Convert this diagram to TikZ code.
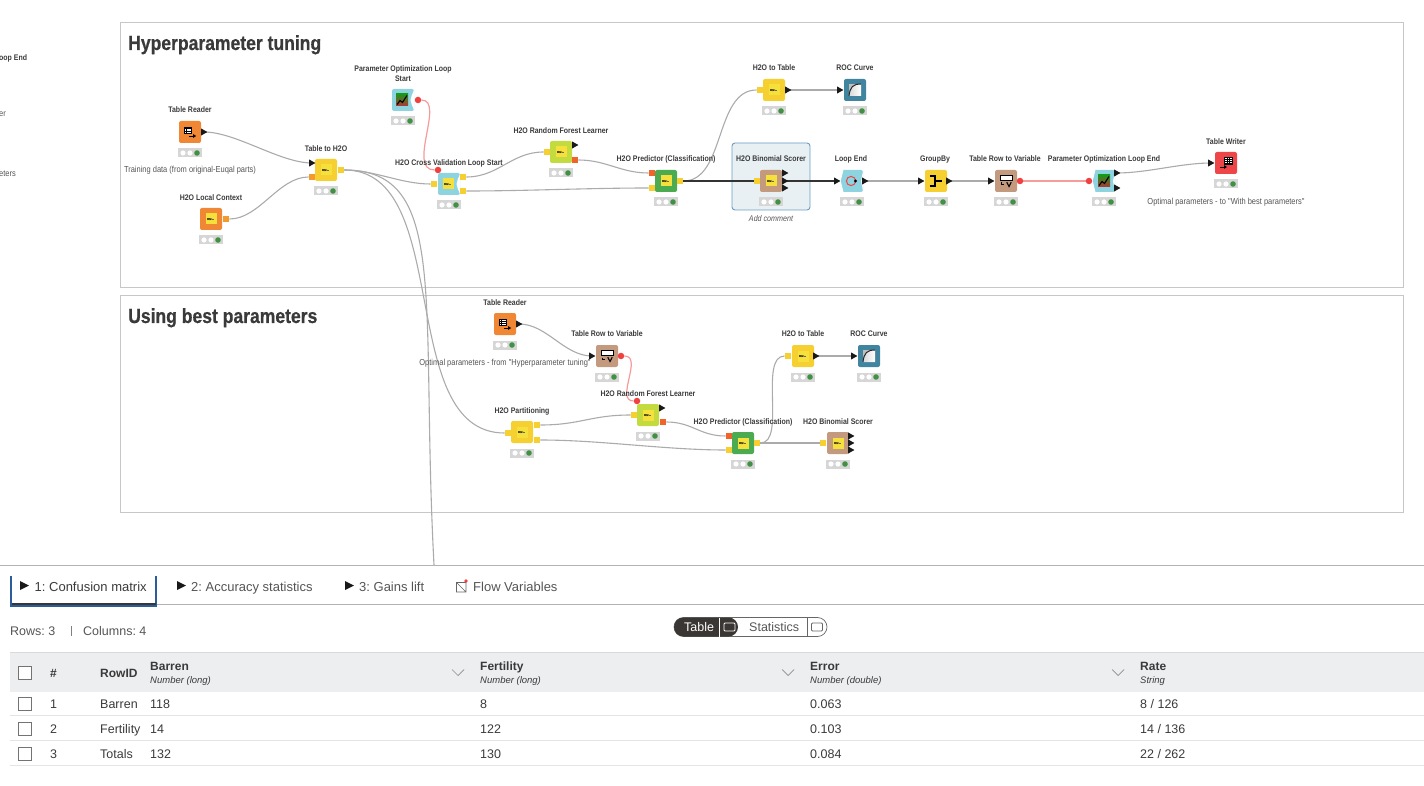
\documentclass[tikz,border=0pt]{standalone}
\usepackage{fontspec}
\setmainfont{Liberation Sans}
\newfontfamily\narrowf[FakeStretch=0.86]{Liberation Sans}
\newfontfamily\headf[FakeStretch=0.86,BoldFeatures={FakeStretch=0.86,FakeBold=0.6}]{Liberation Sans}
\AtBeginDocument{\frenchspacing}
\usetikzlibrary{backgrounds}
\definecolor{cOrange}{HTML}{F08735}
\definecolor{cYellow}{HTML}{F6CF30}
\definecolor{cInner}{HTML}{F5E03C}
\definecolor{cCyan}{HTML}{8DD3E0}
\definecolor{cGreen}{HTML}{4CAA50}
\definecolor{cLime}{HTML}{C4DB3F}
\definecolor{cTan}{HTML}{C49A7E}
\definecolor{cTeal}{HTML}{40849F}
\definecolor{cRed}{HTML}{EE4648}
\definecolor{cPortO}{HTML}{F29A2E}
\definecolor{cPortR}{HTML}{F0632B}
\definecolor{cDot}{HTML}{F04040}
\definecolor{cWire}{HTML}{ABABAB}
\definecolor{cRedWire}{HTML}{F79A9A}
\definecolor{cTxt}{HTML}{3A3A3A}
\definecolor{cTxtL}{HTML}{555555}
\definecolor{cFrame}{HTML}{C4C8C9}
\definecolor{cHead}{HTML}{EDEEF0}
\definecolor{cDark}{HTML}{3A3633}
\definecolor{cTabBlue}{HTML}{2B5D9B}
\definecolor{cHiFill}{HTML}{E8F0F4}
\definecolor{cHiLine}{HTML}{6B9BC3}
\tikzset{
  nodebox/.style={rectangle,rounded corners=2pt,minimum size=22pt,inner sep=0pt,draw=none},
  statusbox/.style={rectangle,minimum width=24pt,minimum height=9pt,inner sep=0pt,fill=black!16},
  yport/.style={rectangle,minimum size=6.5pt,inner sep=0pt,fill=cYellow},
  oport/.style={rectangle,minimum size=6.5pt,inner sep=0pt,fill=cPortO},
  rport/.style={rectangle,minimum size=6.5pt,inner sep=0pt,fill=cPortR},
  dotport/.style={circle,minimum size=6.5pt,inner sep=0pt,fill=cDot},
  wire/.style={draw=cWire,line width=1.1pt},
  redwire/.style={draw=cRedWire,line width=1.2pt},
  thickwire/.style={draw=black!80,line width=1.4pt},
  lab/.style={font=\narrowf\bfseries\fontsize{8.1}{10}\selectfont,text=cTxt,inner sep=0pt,align=center,anchor=base,yshift=-3.6pt},
  note/.style={font=\narrowf\fontsize{8.7}{10}\selectfont,text=cTxtL,inner sep=0pt,anchor=base,yshift=-3.6pt},
  titlef/.style={font=\headf\bfseries\fontsize{20.4}{24}\selectfont,text=cTxt,inner sep=0pt,anchor=base west,yshift=-7pt},
  cellt/.style={font=\fontsize{12.5}{15}\selectfont,text=cTxt,inner sep=0pt,anchor=base west,yshift=-4.5pt},
  tabt/.style={font=\fontsize{13}{15}\selectfont,text=cTxtL,inner sep=0pt,anchor=base west,yshift=-4.5pt},
  headt/.style={font=\bfseries\fontsize{12}{14}\selectfont,text=cTxt,inner sep=0pt,anchor=base west,yshift=-4.5pt},
  subt/.style={font=\itshape\fontsize{9.5}{11}\selectfont,text=cTxt,inner sep=0pt,anchor=base west,yshift=-3.5pt},
  framebox/.style={draw=cFrame,line width=1pt,fill=none},
  checkbox/.style={rectangle,draw=black!55,line width=.8pt,fill=white,minimum size=13pt,inner sep=0pt}
}
\newcommand\knode[4]{%
  \node[nodebox,fill=#4] (#1) at (#2,#3) {};
  \node[statusbox,yshift=-21pt] (#1s) at (#2,#3) {};
  \begin{scope}[shift={(#2,#3)}]
    \fill[white] (-7,21) circle (2.6) (0,21) circle (2.6);
    \fill[cGreen!85!black] (7,21) circle (2.8);
  \end{scope}}
\newcommand\iconH[2]{\begin{scope}[shift={(#1,#2)}]
  \fill[cInner] (-5.5,-5.5) rectangle (5.5,5.5);
  \draw[black,line width=.55pt] (-3.4,-.9)--(-3.4,.9) (-2.2,-.9)--(-2.2,.9) (-3.4,0)--(-2.2,0) (-1.4,1)--(-.4,.2)--(-1.3,-.8) (.2,0)--(1,0);
  \draw[black!60,line width=.4pt] (1.3,0)--(3,0);
  \end{scope}}
\newcommand\iconRead[2]{\begin{scope}[shift={(#1,#2)}]
  \draw[black,line width=.7pt,fill=white] (-6,-5) rectangle (1.5,1.5);
  \draw[black,line width=.6pt] (-6,-3.2)--(1.5,-3.2) (-6,-1)--(1.5,-1) (-3.5,-5)--(-3.5,1.5);
  \draw[black,line width=.9pt] (-1,4)--(4,4);
  \fill[black] (3.2,2.2)--(6.2,4)--(3.2,5.8)--cycle;
  \end{scope}}
\newcommand\iconWrite[2]{\begin{scope}[shift={(#1,#2)}]
  \draw[black,line width=.5pt,fill=white] (-1.5,-6) rectangle (6,1);
  \draw[black,line width=.5pt] (-1.5,-4)--(6,-4) (-1.5,-2)--(6,-2) (-1.5,0)--(6,0) (1,-6)--(1,1) (3.5,-6)--(3.5,1);
  \draw[black,line width=.9pt] (-6,4)--(-1,4);
  \fill[black] (-2,2.2)--(1,4)--(-2,5.8)--cycle;
  \end{scope}}
\newcommand\iconRow[2]{\begin{scope}[shift={(#1,#2)}]
  \draw[black,line width=.9pt,fill=white] (-6,-6) rectangle (6,-.8);
  \draw[black,line width=.7pt] (-5,1.5)--(-5,3)--(-2,3);
  \draw[black,line width=1.1pt] (.8,1.2)--(3,5.5)--(5.2,1.2);
  \end{scope}}
\newcommand\iconPO[2]{\begin{scope}[shift={(#1,#2)}]
  \shade[top color=green!55!black!90,bottom color=cRed!75!black] (-6,-6) rectangle (6,6);
  \draw[black,line width=1.1pt] (-5,4.5)--(-2,.5)--(.5,2.5)--(5,-4.5);
  \end{scope}}
\newcommand\iconROC[2]{\begin{scope}[shift={(#1,#2)}]
  \fill[black!25] (-6,-6) rectangle (6,6);
  \shade[left color=black!15,right color=white] (-6,6) .. controls (-5,-3) and (-2,-6) .. (6,-6) -- (6,6) -- cycle;
  \draw[black!85,line width=1pt] (-6,6) .. controls (-5,-3) and (-2,-6) .. (6,-6);
  \end{scope}}
\newcommand\iconGroup[2]{\begin{scope}[shift={(#1,#2)}]
  \draw[black,line width=2pt] (-6,-5)--(-1,-5)--(-1,5)--(-6,5) (-1,0)--(6,0);
  \end{scope}}
\newcommand\iconLoop[2]{\begin{scope}[shift={(#1,#2)}]
  \draw[cRed,line width=1pt] (0,0) circle (4.6);
  \fill[black] (4.5,0) circle (1.6);
  \end{scope}}
\newcommand\notchR[2]{\fill[white] (#1+11.3,#2-11.3) .. controls (#1+10,#2-6) and (#1+7.5,#2-4) .. (#1+7.5,#2) .. controls (#1+7.5,#2+4) and (#1+10,#2+6) .. (#1+11.3,#2+11.3) -- cycle;}
\newcommand\cutL[2]{\fill[white] (#1-11.3,#2-11.3)--(#1-8.5,#2-11.3)--(#1-11.3,#2)--(#1-8.5,#2+11.3)--(#1-11.3,#2+11.3)--cycle;
  \fill[white] (#1+11.3,#2-11.3)--(#1+9,#2)--(#1+11.3,#2+11.3)--cycle;}
\newcommand\tri[3]{\coordinate (#1) at (#2,#3);
  \fill[black!90] (#2-3,#3-3.6)--(#2+3.4,#3)--(#2-3,#3+3.6)--cycle;}
\newcommand\lbl[4]{\node[lab] (#1) at (#2,#3) {#4};}
\newcommand\nte[4]{\node[note] (#1) at (#2,#3) {#4};}
\begin{document}
\begin{tikzpicture}[x=1pt,y=-1pt]
\useasboundingbox (0,0) rectangle (1424,786);
\node[lab,anchor=base west] (cutA) at (-1,57) {oop End};
\node[note,anchor=base west] (cutB) at (-1,113) {er};
\node[note,anchor=base west] (cutC) at (-1,173) {eters};
\node[titlef] (t1) at (128,43) {Hyperparameter tuning};
\node[titlef] (t2) at (128,316) {Using best parameters};
\knode{tr}{190}{132}{cOrange} \iconRead{190}{132}
\knode{lc}{211}{219}{cOrange} \iconH{211}{219}
\knode{th}{326}{170}{cYellow} \iconH{326}{170}
\knode{ps}{403}{100}{cCyan} \notchR{403}{100} \iconPO{402}{100}
\knode{cv}{449}{184}{cCyan} \notchR{449}{184} \iconH{448}{184}
\knode{rf}{561}{152}{cLime} \iconH{561}{152}
\knode{pr}{666}{181}{cGreen} \iconH{666}{181}
\knode{ht}{774}{90}{cYellow} \iconH{774}{90}
\knode{rc}{855}{90}{cTeal} \iconROC{855}{90}
\knode{le}{852}{181}{cCyan} \cutL{852}{181} \iconLoop{851}{181}
\knode{gb}{936}{181}{cYellow} \iconGroup{936}{181}
\knode{rv}{1006}{181}{cTan} \iconRow{1006}{181}
\knode{pe}{1104}{181}{cCyan} \cutL{1104}{181} \iconPO{1104}{181}
\knode{tw}{1226}{163}{cRed} \iconWrite{1226}{163}
\tri{trO}{204}{132}
\tri{thI}{312}{163}
\node[oport] (thC) at (312,177) {};
\node[yport] (thO) at (341,170) {};
\node[oport] (lcO) at (226,219) {};
\node[dotport] (psO) at (418,100) {};
\node[dotport] (cvV) at (438,170) {};
\node[yport] (cvI) at (434,184) {};
\node[yport] (cvA) at (463,177) {};
\node[yport] (cvB) at (463,191) {};
\node[yport] (rfI) at (547,152) {};
\tri{rfT}{575}{145}
\node[rport] (rfO) at (575,160) {};
\node[rport] (prA) at (652,173) {};
\node[yport] (prB) at (652,188) {};
\node[yport] (prO) at (680,181) {};
\node[yport] (htI) at (760,90) {};
\tri{htO}{788}{90}
\tri{rcI}{840}{90}
\tri{leI}{837}{181}
\tri{leO}{865}{181}
\tri{gbI}{921}{181}
\tri{gbO}{949}{181}
\tri{rvI}{991}{181}
\node[dotport] (rvO) at (1020,181) {};
\node[dotport] (peI) at (1089,181) {};
\tri{peA}{1117}{173}
\tri{peB}{1117}{188}
\tri{twI}{1211}{163}
\begin{pgfonlayer}{background}
\draw[rounded corners=3pt,draw=cHiLine,fill=cHiFill,line width=.9pt] (732,143) rectangle (810,210);
\end{pgfonlayer}
\knode{bs}{771}{181}{cTan} \iconH{771}{181}
\node[yport] (bsI) at (757,181) {};
\tri{bsA}{785}{173}
\tri{bsB}{785}{181}
\tri{bsC}{785}{188}
\knode{tr2}{505}{324}{cOrange} \iconRead{505}{324}
\knode{rv2}{607}{356}{cTan} \iconRow{607}{356}
\knode{rf2}{648}{415}{cLime} \iconH{648}{415}
\knode{pt}{522}{432}{cYellow} \iconH{522}{432}
\knode{pr2}{743}{443}{cGreen} \iconH{743}{443}
\knode{ht2}{803}{356}{cYellow} \iconH{803}{356}
\knode{rc2}{869}{356}{cTeal} \iconROC{869}{356}
\knode{bs2}{838}{443}{cTan} \iconH{838}{443}
\tri{tr2O}{519}{324}
\tri{rv2I}{592}{356}
\node[dotport] (rv2O) at (621,356) {};
\node[dotport] (rf2V) at (637,401) {};
\node[yport] (rf2I) at (634,415) {};
\tri{rf2T}{662}{408}
\node[rport] (rf2O) at (663,422) {};
\node[yport] (ptI) at (508,433) {};
\node[yport] (ptA) at (537,425) {};
\node[yport] (ptB) at (537,440) {};
\node[rport] (pr2A) at (729,436) {};
\node[yport] (pr2B) at (729,450) {};
\node[yport] (pr2O) at (757,443) {};
\node[yport] (ht2I) at (788,356) {};
\tri{ht2O}{816}{356}
\tri{rc2I}{854}{356}
\node[yport] (bs2I) at (823,443) {};
\tri{bs2A}{851}{436}
\tri{bs2B}{851}{443}
\tri{bs2C}{851}{450}
\coordinate (offEnd) at (434,565);
\begin{pgfonlayer}{background}
\draw[framebox] (120,23) rectangle (1403,288);
\draw[framebox] (120,296) rectangle (1403,512);
\path[wire] (trO) .. controls +(32,0) and +(-32,0) .. (thI);
\path[wire] (lcO.east) .. controls +(30,0) and +(-30,0) .. (thC.west);
\path[wire] (thO.east) .. controls +(30,0) and +(-30,0) .. (cvI.west);
\path[wire] (thO.east) .. controls +(110,0) and +(-110,0) .. (ptI.west);
\path[wire] (thO.east) .. controls (450,170) and (420,300) .. (offEnd);
\path[redwire] (psO.east) .. controls +(24,0) and +(-28,0) .. (cvV.west);
\path[wire] (cvA.east) .. controls +(32,0) and +(-32,0) .. (rfI.west);
\path[wire] (cvB.east) .. controls +(60,0) and +(-60,0) .. (prB.west);
\path[wire] (rfO.east) .. controls +(28,0) and +(-28,0) .. (prA.west);
\path[wire] (prO.east) .. controls +(42,0) and +(-42,0) .. (htI.west);
\path[thickwire] (prO.east) -- (bsI.west);
\path[thickwire] (bsB) -- (leI);
\path[wire] (htO) -- (rcI);
\path[wire] (leO) -- (gbI);
\path[wire] (gbO) -- (rvI);
\path[redwire] (rvO.east) -- (peI.west);
\path[wire] (peA) .. controls +(30,0) and +(-30,0) .. (twI);
\path[wire] (tr2O) .. controls +(28,0) and +(-28,0) .. (rv2I);
\path[redwire] (rv2O.east) .. controls +(19,0) and +(-19,0) .. (rf2V.west);
\path[wire] (ptA.east) .. controls +(40,0) and +(-40,0) .. (rf2I.west);
\path[wire] (ptB.east) .. controls +(60,0) and +(-60,0) .. (pr2B.west);
\path[wire] (rf2O.east) .. controls +(26,0) and +(-26,0) .. (pr2A.west);
\path[wire] (pr2O.east) .. controls +(26,0) and +(-26,0) .. (ht2I.west);
\path[wire] (pr2O.east) -- (bs2I.west);
\path[wire] (ht2O) -- (rc2I);
\end{pgfonlayer}
\lbl{l1}{190}{109}{Table Reader}
\nte{n1}{190}{169}{Training data (from original-Euqal parts)}
\lbl{l2}{211}{197}{H2O Local Context}
\lbl{l3}{326}{148}{Table to H2O}
\node[lab,anchor=center,yshift=3pt] (l4) at (403,73) {Parameter Optimization Loop\\Start};
\lbl{l5}{449}{162}{H2O Cross Validation Loop Start}
\lbl{l6}{561}{130}{H2O Random Forest Learner}
\lbl{l7}{666}{158}{H2O Predictor (Classification)}
\lbl{l8}{774}{67}{H2O to Table}
\lbl{l9}{855}{67}{ROC Curve}
\lbl{l10}{771}{158}{H2O Binomial Scorer}
\node[note,font=\narrowf\itshape\fontsize{8.3}{10}\selectfont] (n2) at (771,218) {Add comment};
\lbl{l11}{851}{158}{Loop End}
\lbl{l12}{935}{158}{GroupBy}
\lbl{l13}{1005}{158}{Table Row to Variable}
\lbl{l14}{1104}{158}{Parameter Optimization Loop End}
\lbl{l15}{1226}{141}{Table Writer}
\nte{n3}{1226}{201}{Optimal parameters - to "With best parameters"}
\lbl{l16}{505}{302}{Table Reader}
\lbl{l17}{607}{333}{Table Row to Variable}
\nte{n4}{505}{362}{Optimal parameters - from "Hyperparameter tuning"}
\lbl{l18}{648}{393}{H2O Random Forest Learner}
\lbl{l19}{522}{410}{H2O Partitioning}
\lbl{l20}{743}{421}{H2O Predictor (Classification)}
\lbl{l21}{803}{333}{H2O to Table}
\lbl{l22}{869}{333}{ROC Curve}
\lbl{l23}{838}{421}{H2O Binomial Scorer}
\draw[black!30,line width=.9pt] (0,565.5)--(1424,565.5);
\draw[black!30,line width=.9pt] (157,604.5)--(1424,604.5);
\draw[cTabBlue,line width=1.2pt] (11,576)--(11,606)--(156,606)--(156,576);
\draw[cDark,line width=2.4pt] (11.5,604)--(155.5,604);
\fill[black!90] (20,581)--(29,585.5)--(20,590)--cycle;
\node[tabt,text=cTxt] (tab1) at (34.5,586.5) {1: Confusion matrix};
\fill[black!90] (177,581)--(186,585.5)--(177,590)--cycle;
\node[tabt] (tab2) at (191,586.5) {2: Accuracy statistics};
\fill[black!90] (345,581)--(354,585.5)--(345,590)--cycle;
\node[tabt] (tab3) at (359,586.5) {3: Gains lift};
\draw[black!60,line width=.7pt] (456.5,582.5) rectangle (466,592) (456.5,582.5)--(466,592);
\fill[cDot] (466,581) circle (1.8);
\node[tabt] (tab4) at (473,586.5) {Flow Variables};
\node[cellt,text=cTxtL,font=\fontsize{12.5}{14}\selectfont] (rows) at (10,630.5) {Rows: 3};
\draw[black!50,line width=.7pt] (71.5,626)--(71.5,636);
\node[cellt,text=cTxtL,font=\fontsize{12.5}{14}\selectfont] (cols) at (83,630.5) {Columns: 4};
\draw[black!60,line width=.7pt,rounded corners=9.5pt] (674,617.5) rectangle (827,636.5);
\fill[cDark,rounded corners=9.5pt] (674,617.5) rectangle (738,636.5);
\draw[white,line width=.6pt] (719.5,617.5)--(719.5,636.5);
\node[cellt,text=white] (pillA) at (684,627) {Table};
\node[cellt,text=cTxtL] (pillB) at (749,627) {Statistics};
\draw[black!60,line width=.7pt] (807.5,617.5)--(807.5,636.5);
\draw[white,line width=.8pt,rounded corners=1pt] (724,623) rectangle (735,631);
\draw[black!60,line width=.8pt,rounded corners=1pt] (811.5,623) rectangle (822.5,631);
\fill[cHead] (10,652) rectangle (1424,692);
\draw[black!15,line width=.8pt] (10,652)--(1424,652);
\draw[black!10,line width=.8pt] (10,715.5)--(1424,715.5) (10,740.5)--(1424,740.5) (10,765.5)--(1424,765.5);
\node[checkbox] (cb0) at (25,673) {};
\node[checkbox] (cb1) at (25,704) {};
\node[checkbox] (cb2) at (25,729) {};
\node[checkbox] (cb3) at (25,754) {};
\node[headt] (h0) at (50,672.5) {\#};
\node[headt] (h1) at (100,672.5) {RowID};
\node[headt] (h2) at (150,665.5) {Barren};
\node[subt] (s2) at (150,679.5) {Number (long)};
\node[headt] (h3) at (480,665.5) {Fertility};
\node[subt] (s3) at (480,679.5) {Number (long)};
\node[headt] (h4) at (810,665.5) {Error};
\node[subt] (s4) at (810,679.5) {Number (double)};
\node[headt] (h5) at (1140,665.5) {Rate};
\node[subt] (s5) at (1140,679.5) {String};
\foreach \cx in {458,788,1118} \draw[black!45,line width=.7pt] (\cx-6,669.5)--(\cx,675.5)--(\cx+6,669.5);
\node[cellt] (a1) at (50,703.5) {1};
\node[cellt] (a2) at (50,728.5) {2};
\node[cellt] (a3) at (50,753.5) {3};
\node[cellt] (b1) at (100,703.5) {Barren};
\begin{scope}
\clip (100,718) rectangle (140,738);
\node[cellt] (b2) at (100,728.5) {Fertility};
\end{scope}
\node[cellt] (b3) at (100,753.5) {Totals};
\node[cellt] (c1) at (150,703.5) {118};
\node[cellt] (c2) at (150,728.5) {14};
\node[cellt] (c3) at (150,753.5) {132};
\node[cellt] (d1) at (480,703.5) {8};
\node[cellt] (d2) at (480,728.5) {122};
\node[cellt] (d3) at (480,753.5) {130};
\node[cellt] (e1) at (810,703.5) {0.063};
\node[cellt] (e2) at (810,728.5) {0.103};
\node[cellt] (e3) at (810,753.5) {0.084};
\node[cellt] (f1) at (1140,703.5) {8 / 126};
\node[cellt] (f2) at (1140,728.5) {14 / 136};
\node[cellt] (f3) at (1140,753.5) {22 / 262};
\end{tikzpicture}
\end{document}
